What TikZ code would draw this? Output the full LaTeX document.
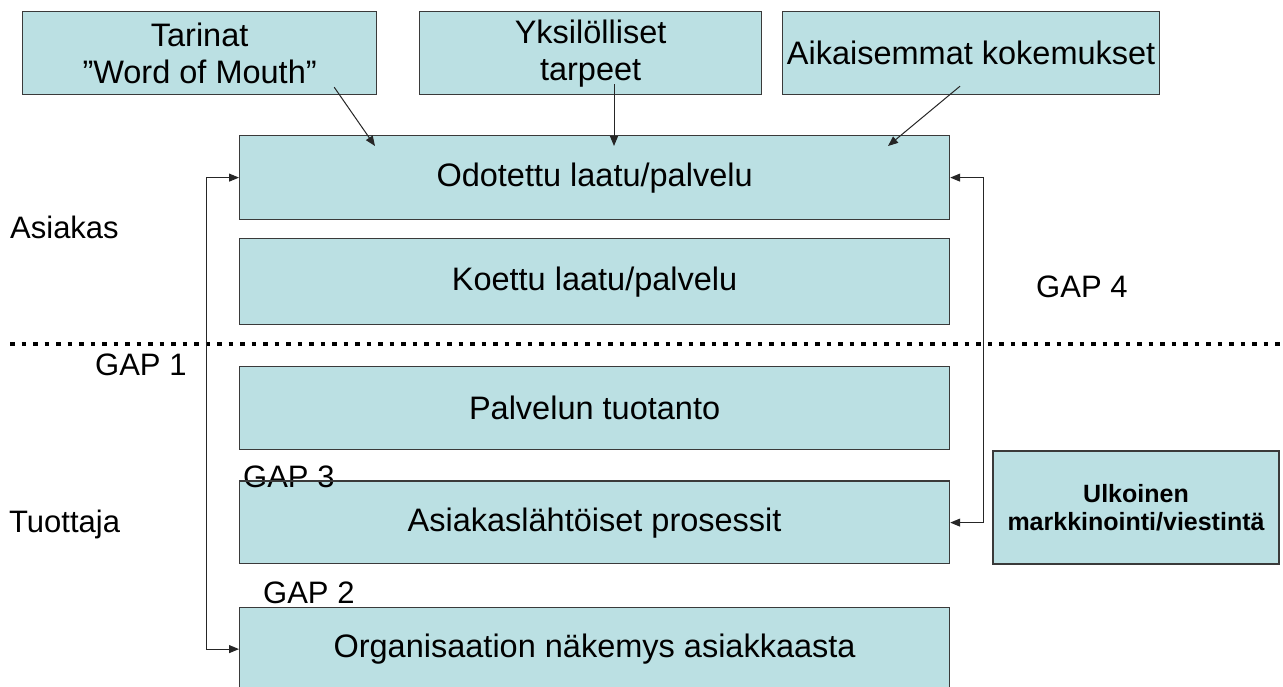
\documentclass[tikz,border=0pt]{standalone}
\usepackage{fontspec}
\setmainfont{Liberation Sans}
\usetikzlibrary{arrows.meta,calc}
\definecolor{boxfill}{HTML}{BBE0E3}
\definecolor{boxline}{HTML}{3A3A3A}
\tikzset{
  box/.style={draw=boxline, fill=boxfill, line width=1.2pt, anchor=north west,
    inner sep=0pt, align=center, font=\fontsize{32.5}{37}\selectfont},
  lbl/.style={anchor=base west, inner sep=0pt, font=\fontsize{31}{36}\selectfont},
  conn/.style={draw=black!85, line width=1pt},
  tip/.style={-{Triangle[length=10pt,width=8pt]}},
  bothtips/.style={{Triangle[length=10pt,width=8pt]}-{Triangle[length=10pt,width=8pt]}},
  separator/.style={line width=3.5pt, dash pattern=on 4.5pt off 7pt}
}
\begin{document}
\begin{tikzpicture}[x=1pt,y=-1pt]
\clip (0,0) rectangle (1283,686);
\fill[white] (0,0) rectangle (1283,686);

% influencing factors
\node[box, minimum width=354pt, minimum height=83pt] (tar) at (22,11) {Tarinat\\”Word of Mouth”};
\node[box, minimum width=342pt, minimum height=83pt] (yks) at (419,11) {Yksilölliset\\tarpeet};
\node[box, minimum width=377pt, minimum height=83pt] (aik) at (782,11) {Aikaisemmat kokemukset};

% customer side
\node[box, minimum width=710pt, minimum height=84pt] (odot) at (239,135) {Odotettu laatu/palvelu};
\node[box, minimum width=710pt, minimum height=86pt] (koet) at (239,238) {Koettu laatu/palvelu};

% separator between customer and provider
\coordinate (sepL) at (10,344);
\coordinate (sepR) at (1283,344);
\draw[separator] (sepL) -- (sepR);

% provider side
\node[box, minimum width=710pt, minimum height=83pt] (palv) at (239,366) {Palvelun tuotanto};
\node[box, minimum width=710pt, minimum height=82pt] (asp) at (239,481) {Asiakaslähtöiset prosessit};
\node[box, minimum width=710pt, minimum height=83pt] (org) at (239,607) {Organisaation näkemys asiakkaasta};
\node[box, line width=2pt, minimum width=286pt, minimum height=113pt,
  font=\bfseries\fontsize{25}{28}\selectfont] (ulk) at (992,450) {Ulkoinen\\markkinointi/viestintä};
\draw[line width=2pt, boxline] ($(ulk.north east)+(4,0)$) -- ($(ulk.south east)+(4,0)$);

% side labels
\node[lbl] (asiakas) at (10,238) {Asiakas};
\node[lbl] (tuottaja) at (9,532) {Tuottaja};
\node[lbl] (gap1) at (95,375) {GAP 1};
\node[lbl] (gap4) at (1036,297) {GAP 4};
\node[lbl] (gap3) at (243,487) {GAP 3};
\node[lbl] (gap2) at (263,603) {GAP 2};
\draw[line width=2.5pt, boxline] (asp.north west) -- (asp.north east);

% influences on expectations
\draw[conn,tip] ($(tar.south east)+(-43,-8)$) -- ($(odot.north west)+(136,11)$);
\draw[conn,tip] ($(yks.south west)+(195,-11)$) -- ($(odot.north west)+(375,11)$);
\draw[conn,tip] ($(aik.south west)+(178,-9)$) -- ($(odot.north west)+(649,11)$);

% gap loops
\draw[conn,bothtips] (odot.west) -- ++(-33,0) |- (org.west);
\draw[conn,bothtips] (odot.east) -- ++(33,0) |- (asp.east);
\end{tikzpicture}
\end{document}
